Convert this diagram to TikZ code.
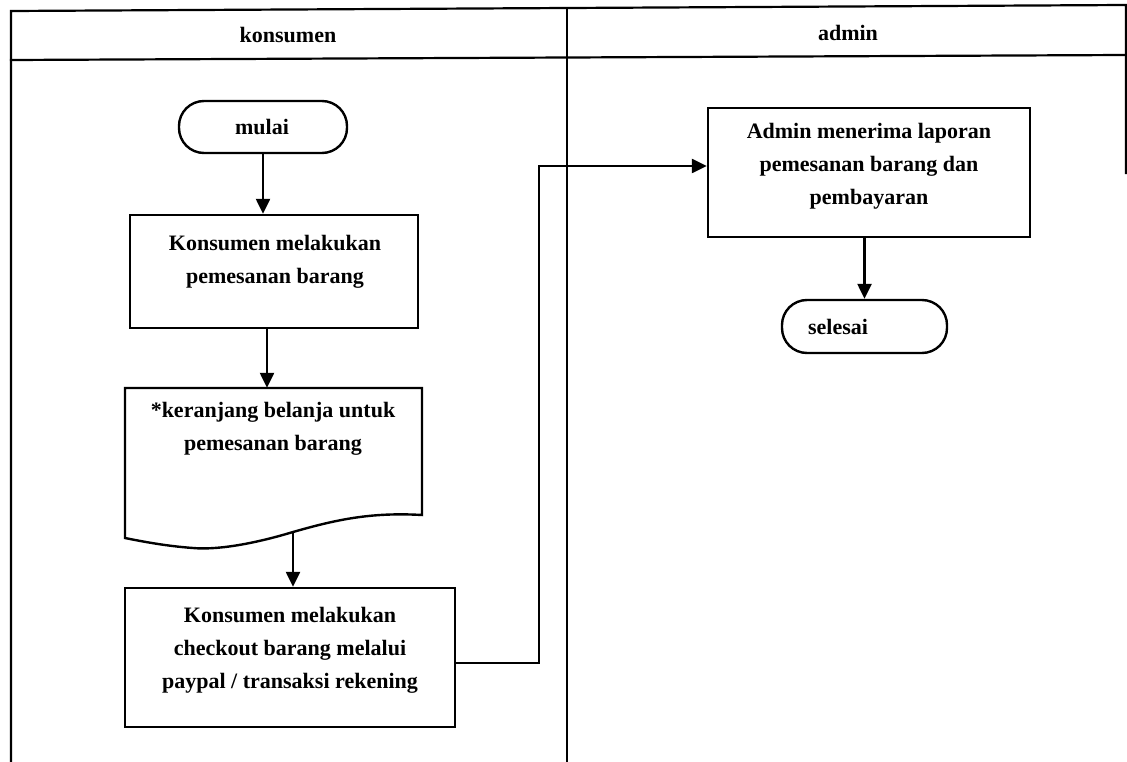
\documentclass[tikz,border=0pt]{standalone}
\usepackage{fontspec}
\setmainfont{Liberation Serif}
\usetikzlibrary{arrows.meta,calc}
\begin{document}
\begin{tikzpicture}[x=1pt,y=-1pt,
  lane/.style={line width=2.2pt, line cap=rect},
  shapeline/.style={draw, line width=2.4pt},
  procbox/.style={shapeline, rectangle, inner sep=0pt},
  term/.style={shapeline, rectangle, rounded corners=25pt, inner sep=0pt},
  txt/.style={font=\fontsize{22}{33}\selectfont\bfseries, align=center, inner sep=0pt},
  arr/.style={line width=2.4pt, -{Triangle[length=15pt,width=14pt]}},
  link/.style={line width=2.4pt}]
\useasboundingbox (0,0) rectangle (1127,762);

% swimlane frame
\draw[lane] (11,762) -- (11,11) -- (1126,5) -- (1126,173);
\draw[lane] (11,60) -- (1126,55);
\draw[lane] (567,8) -- (567,762);
\node[txt] (hk) at (288,35) {konsumen};
\node[txt] (ha) at (848,33) {admin};

% konsumen lane
\node[term, minimum width=168pt, minimum height=52pt] (mulai) at (263,127) {};
\node[txt] (mulait) at (262,127) {mulai};

\node[procbox, minimum width=288pt, minimum height=113pt] (b1) at (274,271.5) {};
\node[txt] (b1t) at (275,262) {Konsumen melakukan\\pemesanan barang};

% document shape with a wavy lower edge
\coordinate (dw) at (293,532);
\draw[line width=2.4pt, line join=miter] (125,388) -- (422,388) -- (422,515)
  .. controls (370,512) and (335,520) .. (dw)
  .. controls (250,545) and (215,550) .. (193,548)
  .. controls (165,546) and (140,541) .. (125,538) -- cycle;
\node[inner sep=0pt, minimum width=297pt, minimum height=160pt] (doc) at (273.5,468) {};
\node[txt] (doct) at (273,429) {*keranjang belanja untuk\\pemesanan barang};

\node[procbox, minimum width=330pt, minimum height=139pt] (b3) at (290,657.5) {};
\node[txt] (b3t) at (290,650) {Konsumen melakukan\\checkout barang melalui\\paypal / transaksi rekening};

% admin lane
\node[procbox, minimum width=322pt, minimum height=129pt] (adm) at (869,172.5) {};
\node[txt] (admt) at (869,166) {Admin menerima laporan\\pemesanan barang dan\\pembayaran};

\node[term, minimum width=165pt, minimum height=53pt] (sel) at (864.5,326.5) {};
\node[txt] (selt) at (838,327) {selesai};

% connectors
\draw[arr] (mulai.south) -- (mulai.south |- b1.north);
\draw[arr] ([xshift=-7pt]b1.south) -- ([xshift=-7pt]b1.south |- doc.north);
\draw[arr] (dw) -- (dw |- b3.north);
\coordinate (bend) at (539,166);
\draw[arr] ([yshift=-5.5pt]b3.east) -| (bend) -- (bend -| adm.west);
\draw[arr] (adm.south -| sel) -- (sel.north);
\end{tikzpicture}
\end{document}
